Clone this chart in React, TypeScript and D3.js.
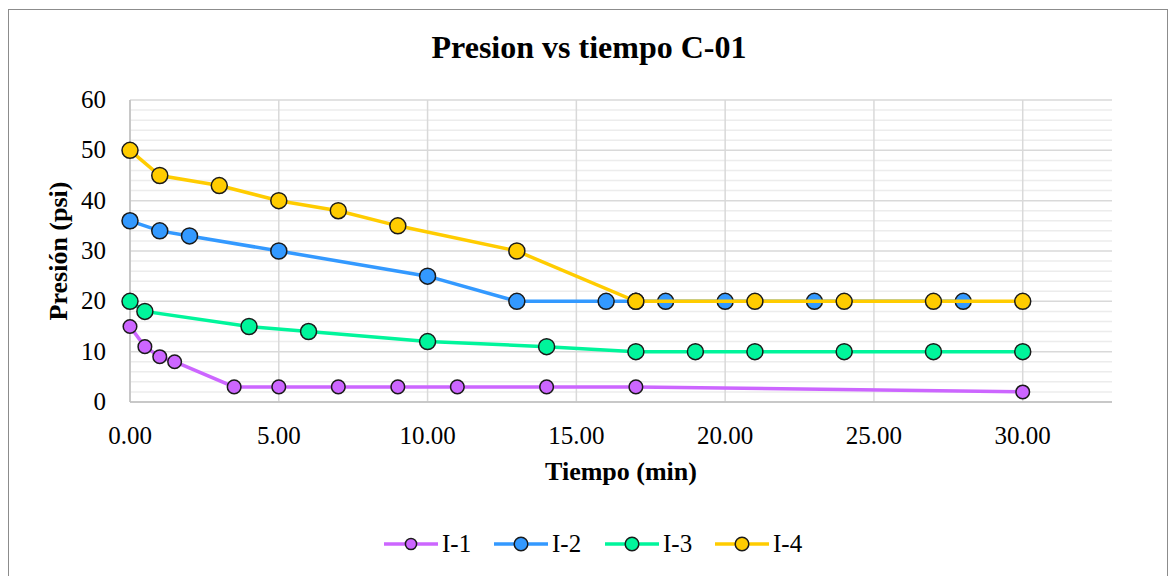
import React from "react";
import * as d3 from "d3";

const seriesNames = ["I-1", "I-2", "I-3", "I-4"];
const seriesColors = ["#CC66FF", "#3399FF", "#00F59B", "#FFCC00"];
const markerR = [6.8, 8, 8, 8];

const i1X = [0, 0.5, 1, 1.5, 3.5, 5, 7, 9, 11, 14, 17, 30];
const i1Y = [15, 11, 9, 8, 3, 3, 3, 3, 3, 3, 3, 2];
const i2X = [0, 1, 2, 5, 10, 13, 16, 17, 18, 20, 23, 28];
const i2Y = [36, 34, 33, 30, 25, 20, 20, 20, 20, 20, 20, 20];
const i3X = [0, 0.5, 4, 6, 10, 14, 17, 19, 21, 24, 27, 30];
const i3Y = [20, 18, 15, 14, 12, 11, 10, 10, 10, 10, 10, 10];
const i4X = [0, 1, 3, 5, 7, 9, 13, 17, 21, 24, 27, 30];
const i4Y = [50, 45, 43, 40, 38, 35, 30, 20, 20, 20, 20, 20];

const xTicks = [0, 5, 10, 15, 20, 25, 30];
const yTicks = [0, 10, 20, 30, 40, 50, 60];

const W = 1170;
const H = 576;
const left = 130;
const right = 1112;
const top = 100;
const bottom = 402;

export default function App() {
  const x = d3.scaleLinear().domain([0, 33]).range([left, right]);
  const y = d3.scaleLinear().domain([0, 60]).range([bottom, top]);
  const minor = d3.range(0, 61, 2).filter((v) => v % 10 !== 0);
  const series = [
    { xs: i1X, ys: i1Y },
    { xs: i2X, ys: i2Y },
    { xs: i3X, ys: i3Y },
    { xs: i4X, ys: i4Y },
  ];
  const line = d3
    .line<[number, number]>()
    .x((d) => x(d[0]))
    .y((d) => y(d[1]));
  const font = "'Liberation Serif', 'Times New Roman', serif";
  const legendX = [384, 494, 605, 715];

  return (
    <svg
      width={W}
      height={H}
      style={{ position: "absolute", left: 0, top: 0, background: "#fff" }}
      fontFamily={font}
    >
      <rect x={8.5} y={9.5} width={1159} height={580} fill="#fff" stroke="#8c8c8c" strokeWidth={1} />
      <text x={589} y={58} textAnchor="middle" fontSize={32} fontWeight="bold" fill="#000">
        Presion vs tiempo C-01
      </text>
      {minor.map((v) => (
        <line key={"m" + v} x1={left} x2={right} y1={y(v)} y2={y(v)} stroke="#ececec" strokeWidth={1.5} />
      ))}
      {yTicks.map((v) => (
        <line key={"y" + v} x1={left} x2={right} y1={y(v)} y2={y(v)} stroke="#d9d9d9" strokeWidth={1.5} />
      ))}
      {xTicks.map((v) => (
        <line key={"x" + v} x1={x(v)} x2={x(v)} y1={top} y2={bottom} stroke="#d9d9d9" strokeWidth={1.5} />
      ))}
      <line x1={left} x2={right} y1={bottom} y2={bottom} stroke="#bfbfbf" strokeWidth={1.5} />
      <line x1={left} x2={left} y1={top} y2={bottom} stroke="#bfbfbf" strokeWidth={1.5} />
      {yTicks.map((v) => (
        <text key={"yl" + v} x={106} y={y(v) + 8} textAnchor="end" fontSize={25} fill="#000">
          {v}
        </text>
      ))}
      {xTicks.map((v) => (
        <text key={"xl" + v} x={x(v)} y={444} textAnchor="middle" fontSize={25} fill="#000">
          {v.toFixed(2)}
        </text>
      ))}
      <text x={621} y={480} textAnchor="middle" fontSize={26} fontWeight="bold" fill="#000">
        Tiempo (min)
      </text>
      <text
        transform={`translate(67,${(top + bottom) / 2}) rotate(-90)`}
        textAnchor="middle"
        fontSize={26}
        fontWeight="bold"
        fill="#000"
      >
        Presión (psi)
      </text>
      {series.map((s, i) => {
        const pts = s.xs.map((xv, k) => [xv, s.ys[k]] as [number, number]);
        return (
          <g key={"s" + i}>
            <path d={line(pts) || ""} fill="none" stroke={seriesColors[i]} strokeWidth={3.5} />
            {pts.map((p, k) => (
              <circle
                key={k}
                cx={x(p[0])}
                cy={y(p[1])}
                r={markerR[i]}
                fill={seriesColors[i]}
                stroke="#1a1a1a"
                strokeWidth={1.5}
              />
            ))}
          </g>
        );
      })}
      {seriesNames.map((n, i) => (
        <g key={"lg" + i}>
          <line
            x1={legendX[i]}
            x2={legendX[i] + 54}
            y1={544}
            y2={544}
            stroke={seriesColors[i]}
            strokeWidth={3.5}
          />
          <circle
            cx={legendX[i] + 27}
            cy={544}
            r={markerR[i] - 1.2}
            fill={seriesColors[i]}
            stroke="#1a1a1a"
            strokeWidth={1.5}
          />
          <text x={legendX[i] + 58} y={552} fontSize={25} fill="#000">
            {n}
          </text>
        </g>
      ))}
    </svg>
  );
}
